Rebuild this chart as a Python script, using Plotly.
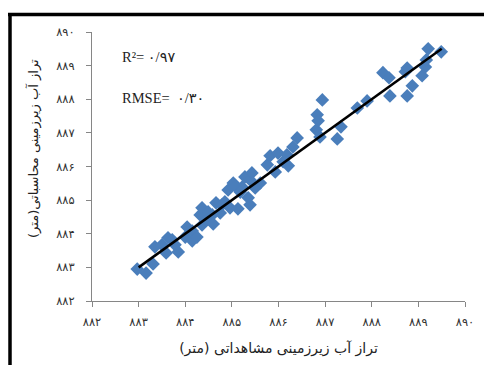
import plotly.graph_objects as go

# ---- data ----
observed = [882.97, 883.16, 883.31, 883.35, 883.50, 883.59, 883.63, 883.78, 883.85, 884.00,
            884.04, 884.15, 884.15, 884.25, 884.32, 884.36, 884.36, 884.45, 884.58, 884.60,
            884.66, 884.75, 884.85, 884.92, 884.96, 885.03, 885.07, 885.13, 885.22, 885.28,
            885.35, 885.39, 885.39, 885.43, 885.61, 885.76, 885.82, 885.93, 885.99, 886.10,
            886.18, 886.21, 886.31, 886.40, 886.81, 886.83, 886.85, 886.89, 886.94, 887.26,
            887.34, 887.69, 887.90, 888.24, 888.37, 888.39, 888.72, 888.76, 888.76, 888.87,
            889.08, 889.15, 889.17, 889.21, 889.49,
            883.72, 884.49, 884.79, 885.18, 885.50]
computed = [882.95, 882.83, 883.10, 883.61, 883.67, 883.43, 883.88, 883.67, 883.46, 883.90,
            884.20, 884.08, 883.79, 883.90, 884.56, 884.77, 884.26, 884.41, 884.56, 884.29,
            884.92, 884.62, 884.95, 885.30, 884.77, 885.51, 885.42, 884.74, 885.39, 885.69,
            885.07, 885.60, 884.86, 885.81, 885.51, 886.05, 886.32, 885.84, 886.40, 886.14,
            886.35, 886.02, 886.58, 886.85, 887.09, 887.54, 887.36, 886.88, 887.98, 886.82,
            887.18, 887.74, 887.95, 888.79, 888.64, 888.10, 888.82, 888.93, 888.10, 888.40,
            888.70, 888.96, 889.17, 889.50, 889.41,
            883.82, 884.65, 884.86, 885.24, 885.36]

fit_x = [883.0, 889.5]
fit_y = [883.0, 889.5]

tick_vals = [882, 883, 884, 885, 886, 887, 888, 889, 890]
x_title = "تراز آب زیرزمینی مشاهداتی (متر)"
y_title = "تراز آب زیرزمینی محاسباتی(متر)"
r2_text = "R²= ۰/۹۷"
rmse_text = "RMSE=  ۰/۳۰"

PERSIAN = str.maketrans("0123456789", "۰۱۲۳۴۵۶۷۸۹")
tick_text = [str(v).translate(PERSIAN) for v in tick_vals]

# page has an 8px body margin: plot area in page pixels is x 92..465, y 32..301
W, H = 484, 357
ML, MT, MR, MB = 84, 24, 27, 64
PX0, PX1, PY0, PY1 = 92, 465, 32, 301


def px(x):
    return (x - PX0) / (PX1 - PX0)


def py(y):
    return (PY1 - y) / (PY1 - PY0)


fig = go.Figure()
fig.add_trace(go.Scatter(
    x=observed, y=computed, mode="markers",
    marker=dict(symbol="diamond", size=10.5, color="#4A7EBB", line=dict(width=0)),
    showlegend=False, cliponaxis=False))
fig.add_trace(go.Scatter(
    x=fit_x, y=fit_y, mode="lines",
    line=dict(color="black", width=2.5), showlegend=False))

axis_common = dict(
    range=[882, 890], tickvals=tick_vals, ticktext=tick_text,
    showgrid=False, zeroline=False, showline=True, linecolor="#868686", linewidth=1,
    ticks="outside", ticklen=5, tickcolor="#868686",
    tickfont=dict(family="DejaVu Sans", size=11.5, color="#333"),
)
fig.update_xaxes(**axis_common, ticklabelstandoff=5,
                 title=dict(text=x_title, standoff=15,
                            font=dict(family="DejaVu Sans", size=14, color="#222")))
fig.update_yaxes(**axis_common, ticklabelstandoff=9)

fig.update_layout(
    width=W, height=H,
    margin=dict(l=ML, r=MR, t=MT, b=MB),
    paper_bgcolor="white", plot_bgcolor="white",
    font=dict(family="Liberation Serif", color="#222"),
    annotations=[
        dict(text=r2_text, xref="x", yref="y", x=882.6, y=889.25, xanchor="left", yanchor="middle",
             showarrow=False, font=dict(family="Liberation Serif, DejaVu Sans", size=14.5, color="#222")),
        dict(text=rmse_text, xref="x", yref="y", x=882.6, y=888.05, xanchor="left", yanchor="middle",
             showarrow=False, font=dict(family="Liberation Serif, DejaVu Sans", size=14.5, color="#222")),
        dict(text=y_title, xref="paper", yref="paper", x=px(33), y=py(149), xanchor="center", yanchor="middle",
             textangle=-90, showarrow=False, font=dict(family="DejaVu Sans", size=13, color="#222")),
    ],
    shapes=[
        dict(type="line", xref="paper", yref="paper", x0=px(10), x1=px(10),
             y0=py(13), y1=py(375), line=dict(color="black", width=3.5)),
        dict(type="line", xref="paper", yref="paper", x0=px(8), x1=px(500),
             y0=py(14.5), y1=py(14.5), line=dict(color="black", width=3.5)),
    ],
)

fig.write_html("out.html")
